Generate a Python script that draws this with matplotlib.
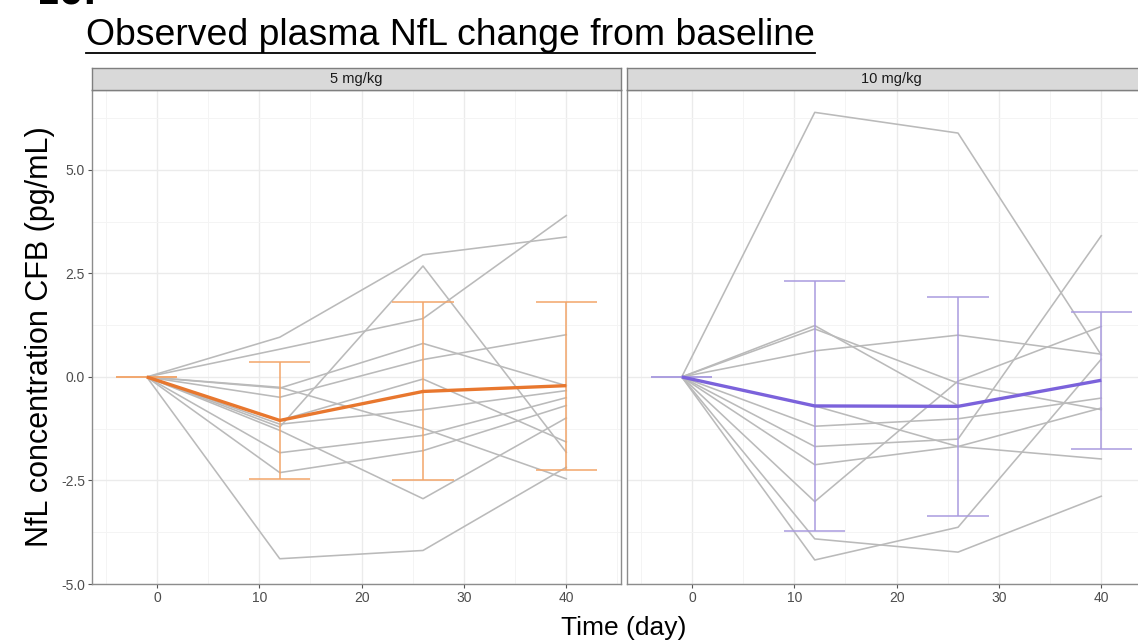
import numpy as np
import matplotlib
matplotlib.use("Agg")
import matplotlib.pyplot as plt
from matplotlib.lines import Line2D

nan = np.nan

# ---------------- data ----------------
days = [-1, 12, 26, 40]
panel_titles = ["5 mg/kg", "10 mg/kg"]
x_ticks = [0, 10, 20, 30, 40]
y_ticks = [-5.0, -2.5, 0.0, 2.5, 5.0]
y_tick_labels = ["-5.0", "-2.5", "0.0", "2.5", "5.0"]

# 5 mg/kg: individual change from baseline (pg/mL)
low_subjects = [
    [0, 0.96, 2.95, 3.38],
    [0, 0.67, 1.41, 3.90],
    [0, -1.21, 2.68, -1.82],
    [0, -1.29, -2.94, -0.99],
    [0, -4.39, -4.19, -2.18],
    [0, -1.83, -1.41, -0.50],
    [0, -2.31, -1.78, -0.69],
    [0, -0.49, 0.42, 1.02],
    [0, -0.27, 0.81, -0.21],
    [0, -1.05, -0.05, -1.57],
    [0, -1.14, -0.79, -0.33],
    [0, -0.25, -1.24, -2.46],
]
low_mean = [0, -1.05, -0.35, -0.21]
low_sd = [0, 1.41, 2.15, 2.03]

# 10 mg/kg: individual change from baseline (pg/mL)
high_subjects = [
    [0, 6.39, 5.89, 0.53],
    [0, -3.01, -0.10, 1.22],
    [0, -4.42, -3.63, 0.43],
    [0, -1.68, -1.50, 3.41],
    [0, -3.91, -4.23, -2.88],
    [0, 1.24, -0.69, nan],
    [0, -2.12, -1.68, -0.75],
    [0, 0.63, 1.01, 0.55],
    [0, 1.16, -0.15, -0.79],
    [0, -0.70, -1.68, -1.98],
    [0, -1.19, -1.01, -0.51],
]
high_mean = [0, -0.70, -0.71, -0.08]
high_sd = [0, 3.02, 2.65, 1.66]

# ---------------- styling ----------------
plt.rcParams['font.family'] = ["Liberation Sans", "DejaVu Sans"]

W, H = 1138, 644
fig = plt.figure(figsize=(W / 100, H / 100), dpi=100)


def frac_box(x0, x1, ytop, ybot):
    return [x0 / W, 1 - ybot / H, (x1 - x0) / W, (ybot - ytop) / H]


panel_px = [(92, 621), (627, 1156)]
panels = [
    (low_subjects, low_mean, low_sd, "#E8772E", "#F2A56A"),
    (high_subjects, high_mean, high_sd, "#7B62DB", "#A99BDF"),
]

spine_col = "#8C8C8C"
tick_col = "#4D4D4D"

for i, ((x0, x1), (subjects, mean, sd, mcol, ecol)) in enumerate(zip(panel_px, panels)):
    ax = fig.add_axes(frac_box(x0, x1, 90, 584))
    ax.set_xlim(-6.35, 45.35)
    ax.set_ylim(-4.96, 6.93)
    ax.set_xticks(x_ticks)
    ax.set_xticks([-5, 5, 15, 25, 35, 45], minor=True)
    ax.set_yticks(y_ticks)
    ax.set_yticks([-3.75, -1.25, 1.25, 3.75, 6.25], minor=True)
    ax.set_yticklabels(y_tick_labels)
    ax.grid(which="major", color="#EBEBEB", lw=1.0)
    ax.grid(which="minor", color="#F4F4F4", lw=0.7)
    ax.set_axisbelow(True)
    ax.tick_params(which="minor", length=0)
    ax.tick_params(which="major", length=3, width=0.8, color="#555555",
                   labelsize=10, labelcolor=tick_col, pad=2)
    if i > 0:
        ax.tick_params(axis="y", left=False, labelleft=False)
    for sp in ax.spines.values():
        sp.set_color(spine_col)
        sp.set_linewidth(1.0)

    for subj in subjects:
        ax.plot(days, subj, color="#BABABA", lw=1.15, zorder=2)

    d = np.array(days, dtype=float)
    m = np.array(mean)
    s = np.array(sd)
    ax.vlines(d, m - s, m + s, color=ecol, lw=1.1, zorder=3)
    ax.hlines(m + s, d - 3, d + 3, color=ecol, lw=1.1, zorder=3)
    ax.hlines(m - s, d - 3, d + 3, color=ecol, lw=1.1, zorder=3)
    ax.plot(days, mean, color=mcol, lw=2.4, zorder=4, solid_capstyle="butt")

    # facet strip
    sax = fig.add_axes(frac_box(x0, x1, 68, 90))
    sax.set_facecolor("#D9D9D9")
    sax.set_xticks([])
    sax.set_yticks([])
    for sp in sax.spines.values():
        sp.set_color("#7F7F7F")
        sp.set_linewidth(1.0)
    sax.text(0.5, 0.48, panel_titles[i], transform=sax.transAxes,
             ha="center", va="center", fontsize=10.5, color="#1A1A1A")

# axis titles
fig.text(40 / W, 1 - 337 / H, "NfL concentration CFB (pg/mL)", rotation=90,
         ha="center", va="center", fontsize=22, color="black")
fig.text(624 / W, 1 - 628 / H, "Time (day)", ha="center", va="center",
         fontsize=19, color="black")

# panel label, cut off at the very top as in the reference
fig.text(35 / W, 1 - 4 / H, "10.", ha="left", va="baseline", fontsize=25,
         fontweight="bold", family=["DejaVu Sans"], color="black")

# underlined title
title = fig.text(86 / W, 1 - 45 / H, "Observed plasma NfL change from baseline",
                 ha="left", va="baseline", fontsize=26.9, color="black")
fig.canvas.draw()
bb = title.get_window_extent()
y_ul = 1 - 53 / H
fig.add_artist(Line2D([bb.x0 / W, bb.x1 / W], [y_ul, y_ul],
                      transform=fig.transFigure, color="black", lw=1.3))

fig.savefig("out.png", dpi=100)
